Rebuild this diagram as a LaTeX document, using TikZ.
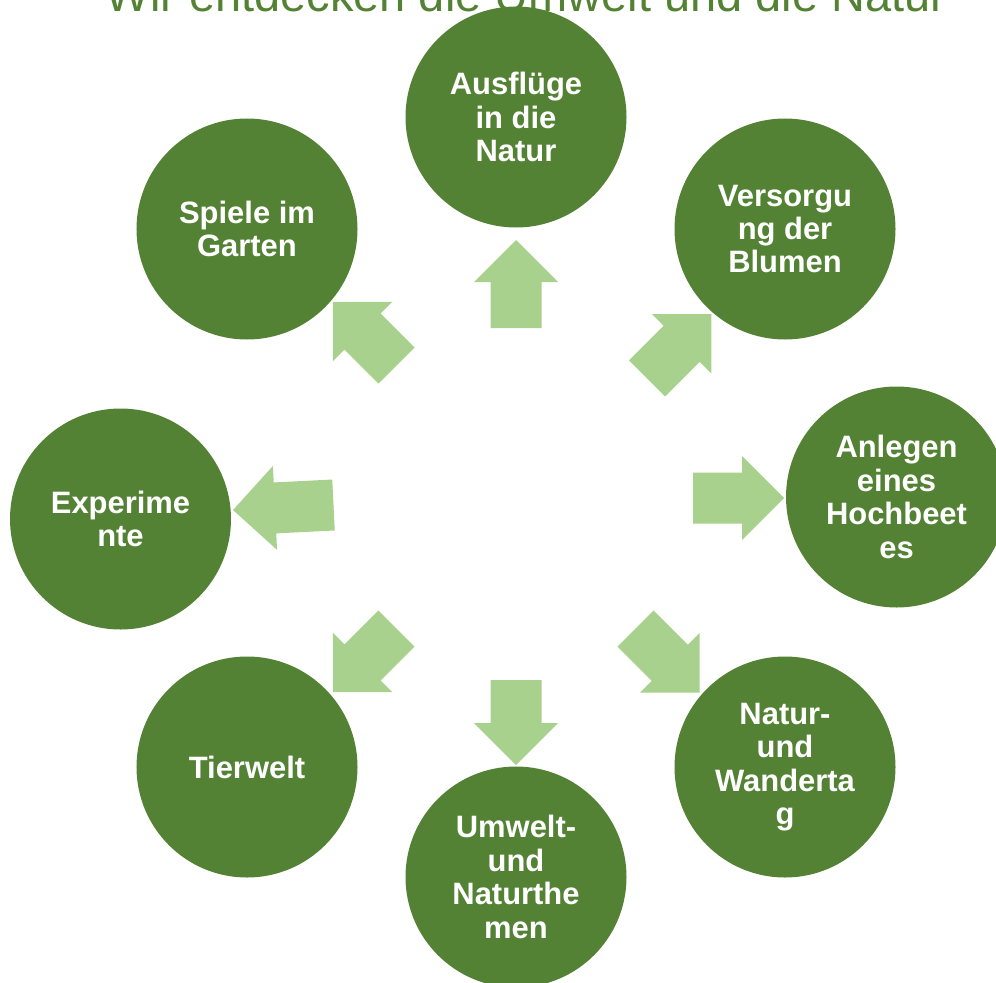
\documentclass[tikz,border=0pt]{standalone}
\usepackage{fontspec}
\setmainfont{Liberation Sans}
\usetikzlibrary{positioning}

\definecolor{leafgreen}{HTML}{548235}
\definecolor{paleleaf}{HTML}{A9D18E}

\begin{document}
\begin{tikzpicture}[
    x=0.25mm, y=-0.25mm,
    topic/.style={draw=none, circle, fill=leafgreen, minimum size=55.25mm, inner sep=0pt,
      align=center, text=white, font=\fontsize{22}{23.8}\selectfont\bfseries},
    heading/.style={anchor=base, text=leafgreen, inner sep=0pt, font=\fontsize{33.4}{40}\selectfont},
    leafarrow/.pic={
      \fill[paleleaf] (0,-25.5) -- (#1-42,-25.5) -- (#1-42,-42) -- (#1,0)
        -- (#1-42,42) -- (#1-42,25.5) -- (0,25.5) -- cycle;
    },
  ]
  \useasboundingbox (0,0) rectangle (996,982);

  % Title, cut off at the top edge
  \node[heading] (title) at (526,12) {Wir entdecken die Umwelt und die Natur};

  % Circles round the ring
  \node[topic] (ausflug) at (516,117) {Ausflüge\\in die\\Natur};
  \node[topic] (blumen) at (785,229) {Versorgu\\ng der\\Blumen};
  \node[topic] (hochbeet) at (896.5,497) {Anlegen\\eines\\Hochbeet\\es};
  \node[topic] (wandertag) at (785,767) {Natur-\\und\\Wanderta\\g};
  \node[topic] (themen) at (516,877) {Umwelt-\\und\\Naturthe\\men};
  \node[topic] (tierwelt) at (247,767) {Tierwelt};
  \node[topic] (experiment) at (120.5,519) {Experime\\nte};
  \node[topic] (garten) at (247,229) {Spiele im\\Garten};

  % Block arrows pointing outwards
  \pic[rotate=90] at (516,328) {leafarrow=88};
  \pic[rotate=45] at (647,378.5) {leafarrow=91};
  \pic[rotate=0] at (693,498) {leafarrow=91};
  \pic[rotate=-45] at (635.5,628.5) {leafarrow=90.5};
  \pic[rotate=-90] at (516,680) {leafarrow=85};
  \pic[rotate=-135] at (396.5,628.5) {leafarrow=90};
  \pic[rotate=182.85] at (333.5,505) {leafarrow=100.6};
  \pic[rotate=135] at (396.5,365.5) {leafarrow=90};
\end{tikzpicture}
\end{document}
